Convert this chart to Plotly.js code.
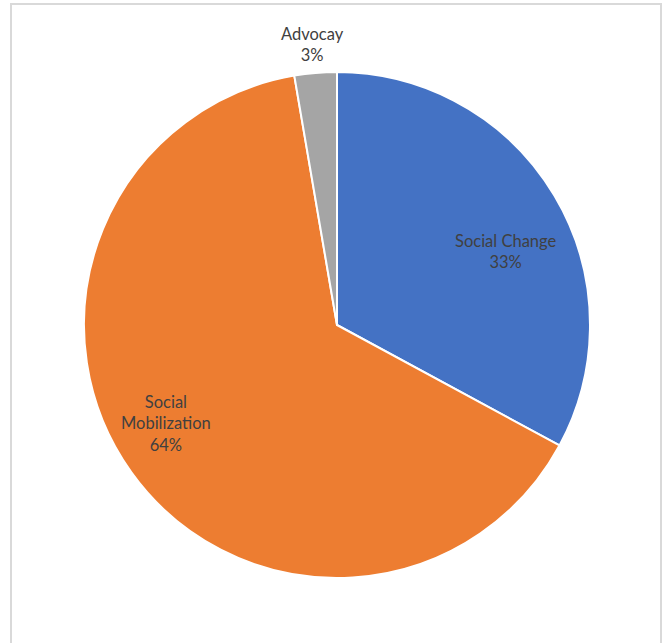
<!DOCTYPE html>
<html>
<head>
<meta charset="utf-8">
<script src="https://cdn.plot.ly/plotly-3.0.1.min.js"></script>
<style>html,body{margin:0;padding:0;background:#fff;}#chart{width:668px;height:643px;}</style>
</head>
<body>
<div id="chart"></div>
<script>
const labels = ["Social Change", "Social Mobilization", "Advocay"];
const values = [32.9, 64.4, 2.7];
const colors = ["#4472C4", "#ED7D31", "#A5A5A5"];
const labelText = ["Social Change", "Social<br>Mobilization", "Advocay"];

const W = 668, H = 643;
// label anchor positions in pixels (layout only)
const labelPos = [[505, 252], [166, 423], [312, 44]];

const total = values.reduce((a, b) => a + b, 0);
const annotations = labels.map((l, i) => ({
  xref: "paper", yref: "paper",
  x: labelPos[i][0] / W, y: 1 - labelPos[i][1] / H,
  xanchor: "center", yanchor: "middle",
  text: labelText[i] + "<br>" + Math.round(values[i] / total * 100) + "%",
  showarrow: false,
  font: {family: "Lato, 'Open Sans', sans-serif", size: 16.5, color: "#404040"}
}));

const trace = {
  type: "pie",
  labels: labels,
  values: values,
  sort: false,
  direction: "clockwise",
  rotation: 0,
  textinfo: "none",
  hoverinfo: "label+percent",
  marker: {colors: colors, line: {color: "#ffffff", width: 2}},
  domain: {x: [84 / W, 590 / W], y: [1 - 578 / H, 1 - 72 / H]},
  showlegend: false
};

const layout = {
  width: W, height: H,
  margin: {l: 0, r: 0, t: 0, b: 0},
  paper_bgcolor: "#ffffff",
  showlegend: false,
  annotations: annotations,
  shapes: [{
    type: "rect", xref: "paper", yref: "paper",
    x0: 11 / W, x1: 661 / W, y0: -0.05, y1: 1 - 4 / H,
    line: {color: "#D9D9D9", width: 2}, fillcolor: "rgba(0,0,0,0)", layer: "below"
  }]
};

Plotly.newPlot("chart", [trace], layout, {displayModeBar: false, staticPlot: true});
</script>
</body>
</html>
